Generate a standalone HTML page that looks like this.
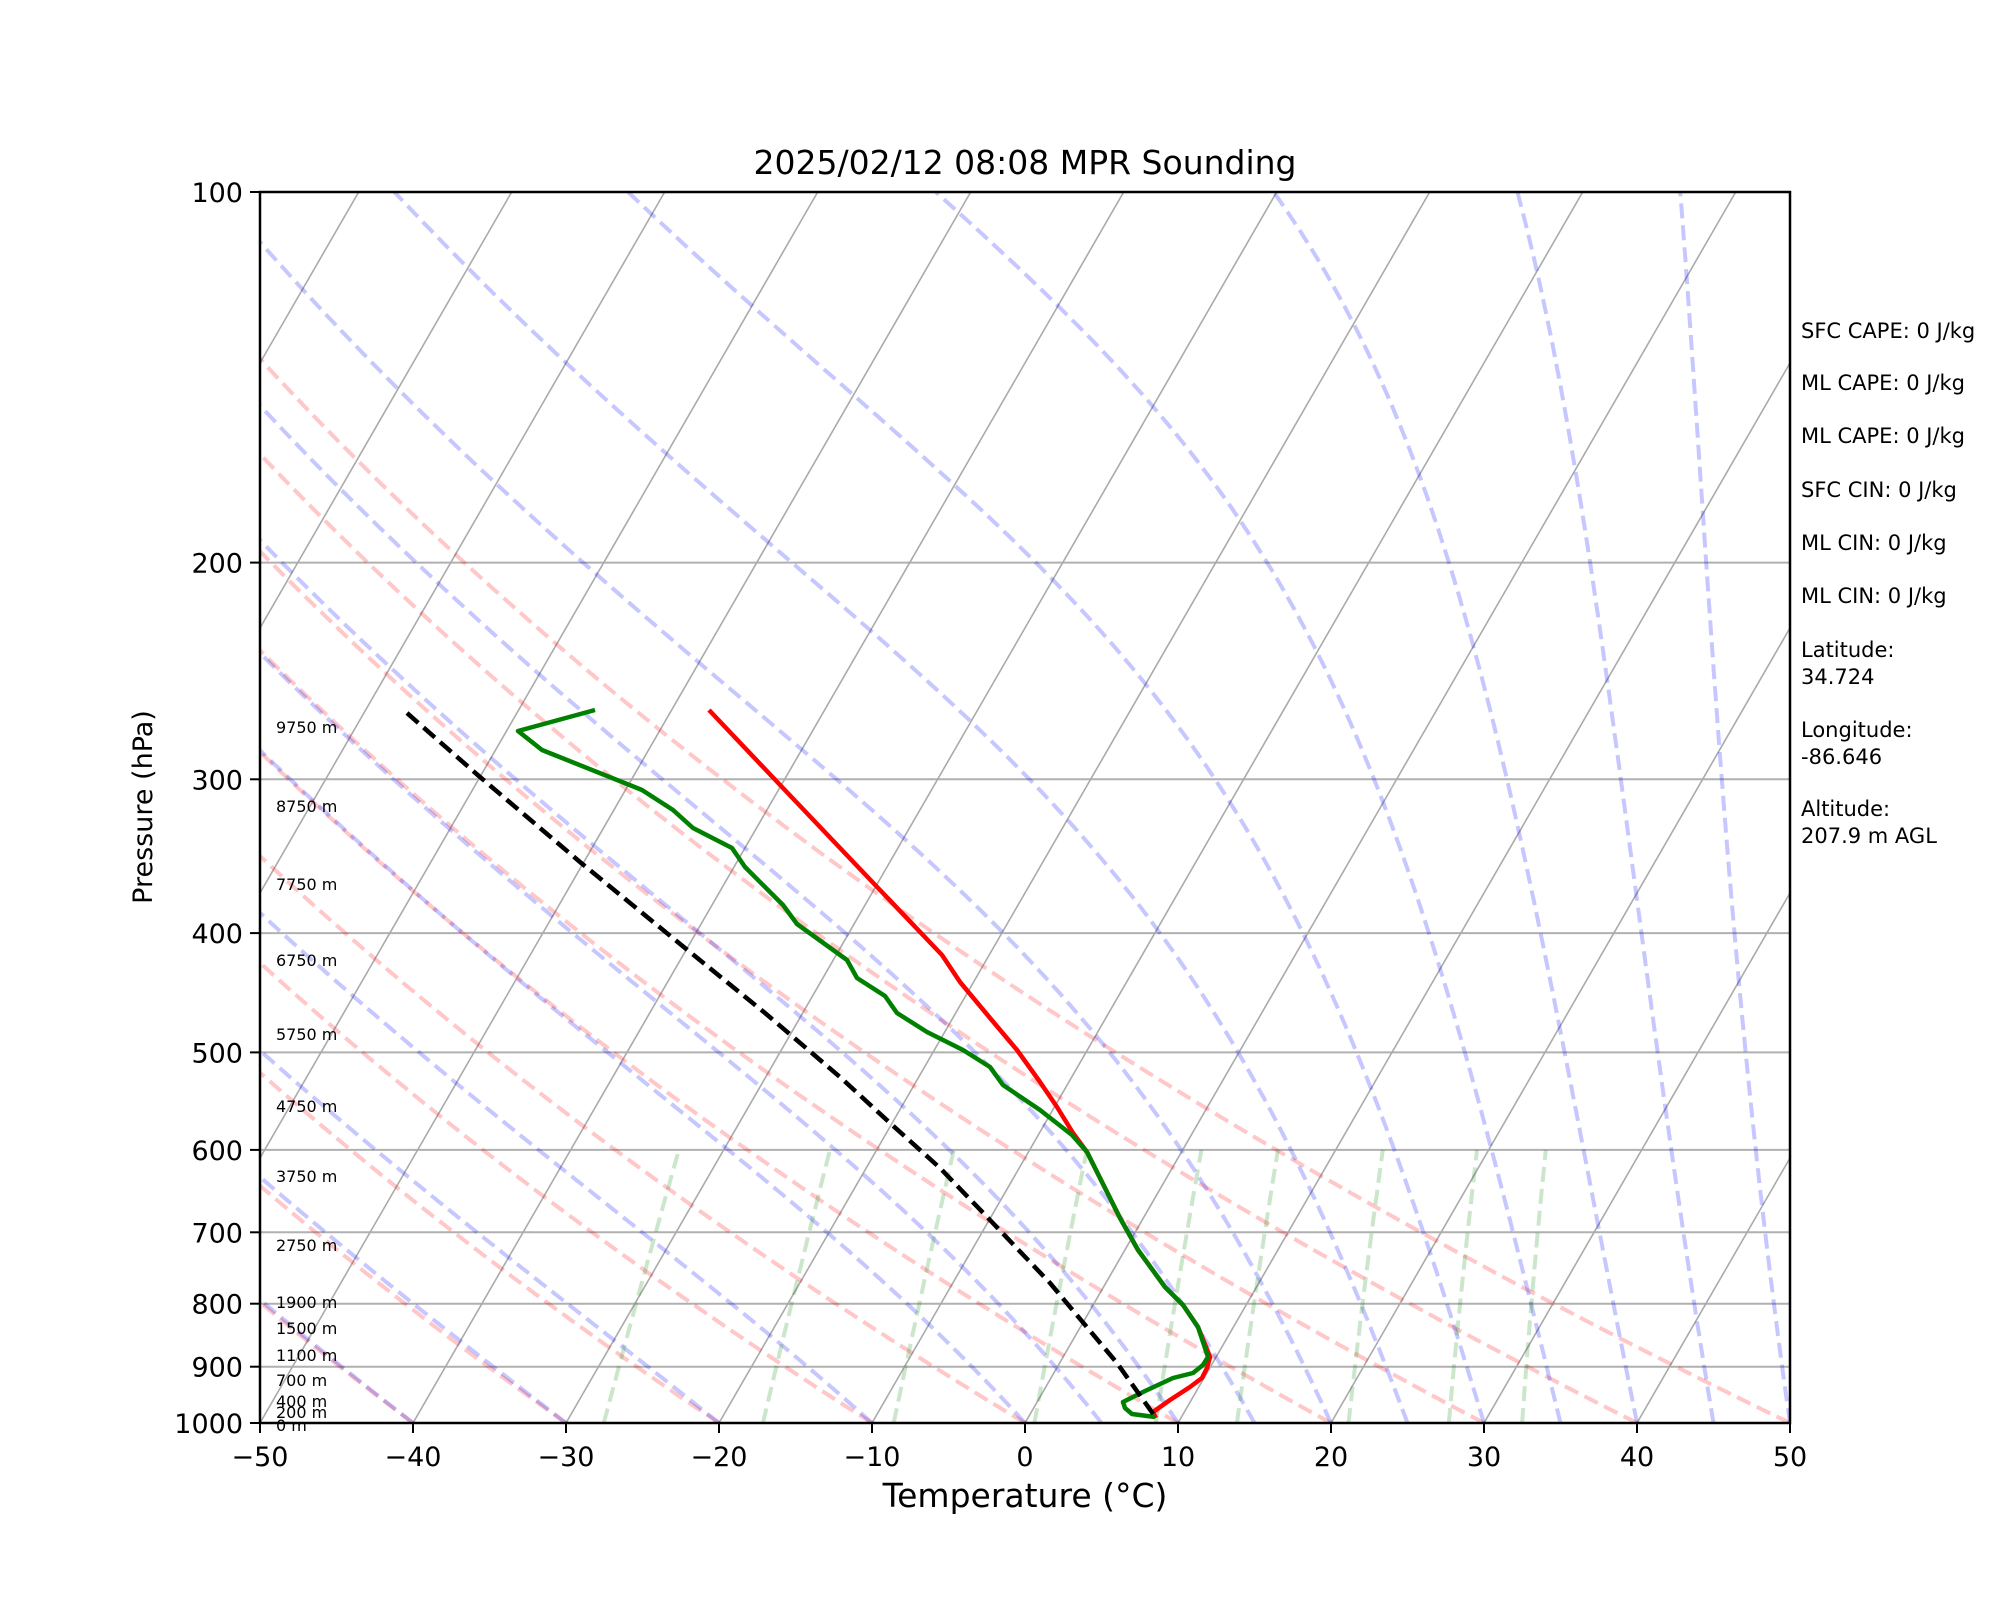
<!DOCTYPE html>
<html><head><meta charset="utf-8">
<style>
html,body{margin:0;padding:0;background:#fff;}
svg{display:block;font-family:"DejaVu Sans","Liberation Sans",sans-serif;}
</style></head>
<body>
<svg id="s" width="2000" height="1600" xmlns="http://www.w3.org/2000/svg">
<defs><clipPath id="c"><rect x="260" y="192" width="1530" height="1231"/></clipPath></defs>
<rect width="2000" height="1600" fill="#fff"/>
<g id="bg" clip-path="url(#c)"></g>
<g id="data" clip-path="url(#c)"></g>
<rect x="260" y="192" width="1530" height="1231" fill="none" stroke="#000" stroke-width="2.5"/>
<g id="ticks"></g>
<text x="1025" y="174" font-size="33" text-anchor="middle">2025/02/12 08:08 MPR Sounding</text>
<text x="1025" y="1507" font-size="33" text-anchor="middle">Temperature (°C)</text>
<text transform="translate(152,807) rotate(-90)" font-size="27" text-anchor="middle">Pressure (hPa)</text>
<g font-size="21">
<text x="1801" y="338">SFC CAPE: 0 J/kg</text>
<text x="1801" y="390">ML CAPE: 0 J/kg</text>
<text x="1801" y="443">ML CAPE: 0 J/kg</text>
<text x="1801" y="497">SFC CIN: 0 J/kg</text>
<text x="1801" y="550">ML CIN: 0 J/kg</text>
<text x="1801" y="603">ML CIN: 0 J/kg</text>
<text x="1801" y="657">Latitude:</text><text x="1801" y="684">34.724</text>
<text x="1801" y="737">Longitude:</text><text x="1801" y="764">-86.646</text>
<text x="1801" y="816">Altitude:</text><text x="1801" y="843">207.9 m AGL</text>
</g>
<g font-size="16">
<text x="276" y="733">9750 m</text>
<text x="276" y="812">8750 m</text>
<text x="276" y="890">7750 m</text>
<text x="276" y="966">6750 m</text>
<text x="276" y="1040">5750 m</text>
<text x="276" y="1112">4750 m</text>
<text x="276" y="1182">3750 m</text>
<text x="276" y="1251">2750 m</text>
<text x="276" y="1308">1900 m</text>
<text x="276" y="1334">1500 m</text>
<text x="276" y="1361">1100 m</text>
<text x="276" y="1386">700 m</text>
<text x="276" y="1407">400 m</text>
<text x="276" y="1418">200 m</text>
<text x="276" y="1431">0 m</text>
</g>
</svg>
<script>
const NS="http://www.w3.org/2000/svg";
const bg=document.getElementById('bg'),dg=document.getElementById('data'),tg=document.getElementById('ticks');
function Y(p){return 1423-1231*Math.log10(1000/p);}
function X(T,p){return 260+(T+50)*15.3+(1423-Y(p))*0.57735;}
function el(g,tag,a){const e=document.createElementNS(NS,tag);for(const k in a)e.setAttribute(k,a[k]);g.appendChild(e);return e;}
function path(g,pts,st){el(g,'path',Object.assign({d:'M'+pts.map(q=>q[0].toFixed(1)+','+q[1].toFixed(1)).join('L'),fill:'none'},st));}
[200,300,400,500,600,700,800,900].forEach(p=>path(bg,[[260,Y(p)],[1790,Y(p)]],{stroke:'#b0b0b0','stroke-width':2}));
for(let T=-160;T<=50;T+=10)path(bg,[[X(T,1000),Y(1000)],[X(T,100),Y(100)]],{stroke:'#aaaaaa','stroke-width':1.6});
const ps=[];for(let p=1000;p>=100;p-=5)ps.push(p);
for(let t0=-40;t0<=50;t0+=10){const pts=ps.map(p=>{const T=(t0+273.15)*Math.pow(p/1000,0.2857)-273.15;return[X(T,p),Y(p)];});
path(bg,pts,{stroke:'rgba(255,0,0,0.22)','stroke-width':4,'stroke-dasharray':'15,7'});}
function es(Tc){return 6.112*Math.exp(17.67*Tc/(Tc+243.5));}
function dTdp(T,p){const Rd=287.04,Cp=1005.7,Lv=2.501e6,eps=0.622;const e=es(T-273.15);const rs=eps*e/(p-e);
return (Rd*T+Lv*rs)/(p*(Cp+Lv*Lv*rs*eps/(Rd*T*T)));}
[-40,-30,-20,-10,0,5,10,15,20,25,30,35,40,45,50].forEach(t0=>{let T=t0+273.15,p=1000;const pts=[[X(t0,1000),Y(1000)]];
const h=-2;while(p>100){const k1=dTdp(T,p),k2=dTdp(T+h*k1/2,p+h/2);T+=h*k2;p+=h;pts.push([X(T-273.15,p),Y(p)]);}
path(bg,pts,{stroke:'rgba(0,0,255,0.22)','stroke-width':4,'stroke-dasharray':'15,7'});});
[0.0004,0.001,0.002,0.004,0.007,0.01,0.016,0.024,0.032].forEach(w=>{const pts=[];for(let p=1000;p>=600;p-=10){const e=p*w/(0.622+w);const l=Math.log(e/6.112);const Td=243.5*l/(17.67-l);pts.push([X(Td,p),Y(p)]);}
path(bg,pts,{stroke:'rgba(0,128,0,0.2)','stroke-width':4,'stroke-dasharray':'15,7'});});
const green=[[595,710],[518,731],[542,750],[642,790],[673,810],[693,828],[732,848],[745,867],[783,905],[797,924],[847,960],[857,978],[885,996],[897,1013],[927,1032],[963,1050],[990,1067],[1003,1085],[1040,1110],[1072,1135],[1087,1152],[1120,1218],[1138,1250],[1165,1287],[1183,1305],[1198,1327],[1208,1357],[1203,1365],[1193,1373],[1173,1378],[1143,1392],[1123,1402],[1125,1408],[1132,1414],[1155,1417]];
const red=[[709,710],[782,787],[880,890],[942,955],[960,982],[990,1018],[1017,1050],[1040,1082],[1057,1107],[1073,1133],[1087,1152],[1120,1218],[1138,1250],[1165,1287],[1183,1305],[1198,1327],[1210,1357],[1207,1368],[1202,1378],[1190,1387],[1170,1400],[1153,1412],[1156,1418]];
const blk=[[407,713],[480,777],[580,862],[685,948],[765,1013],[840,1077],[890,1123],[940,1168],[990,1220],[1050,1283],[1117,1363],[1156,1418]];
path(dg,red,{stroke:'#ff0000','stroke-width':4.5,'stroke-linejoin':'round'});
path(dg,green,{stroke:'#008000','stroke-width':4.5,'stroke-linejoin':'round'});
path(dg,blk,{stroke:'#000','stroke-width':4.5,'stroke-dasharray':'15,7','stroke-linejoin':'round'});
for(let T=-50;T<=50;T+=10){const x=260+(T+50)*15.3;path(tg,[[x,1423],[x,1433]],{stroke:'#000','stroke-width':2});
const t=el(tg,'text',{x:x,y:1466,'font-size':27,'text-anchor':'middle'});t.textContent=(T<0?'\u2212':'')+Math.abs(T);}
[100,200,300,400,500,600,700,800,900,1000].forEach(p=>{const y=Y(p);path(tg,[[250,y],[260,y]],{stroke:'#000','stroke-width':2});
const t=el(tg,'text',{x:243,y:y+10,'font-size':27,'text-anchor':'end'});t.textContent=p;});
</script>
</body></html>
